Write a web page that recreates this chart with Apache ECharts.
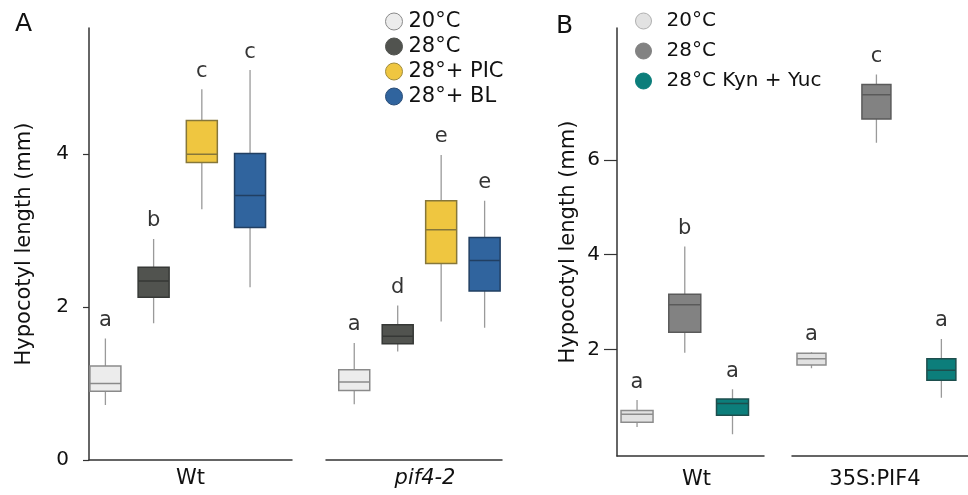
<!DOCTYPE html>
<html><head><meta charset="utf-8">
<script src="https://cdn.jsdelivr.net/npm/echarts@6/dist/echarts.min.js"></script>
<style>html,body{margin:0;padding:0;background:#fff}#c{width:968px;height:495px}</style>
</head><body><div id="c"></div>
<script>
// ---------- DATA ----------
// each box: [lowWhisker, Q1, median, Q3, highWhisker]
const condA = ['20°C', '28°C', '28°+ PIC', '28°+ BL'];
const wtA   = [[0.72, 0.90, 1.00, 1.23, 1.59], [1.79, 2.13, 2.34, 2.52, 2.89], [3.28, 3.89, 4.00, 4.44, 4.85], [2.26, 3.04, 3.46, 4.01, 5.10]];
const pifA  = [[0.73, 0.91, 1.02, 1.18, 1.53], [1.42, 1.52, 1.62, 1.77, 2.02], [1.81, 2.57, 3.01, 3.39, 3.99], [1.73, 2.21, 2.61, 2.91, 3.39]];
const lettersWtA  = ['a', 'b', 'c', 'c'];
const lettersPifA = ['a', 'd', 'e', 'e'];
const groupsA = ['Wt', 'pif4-2'];
const ticksA = [0, 2, 4];

const condB = ['20°C', '28°C', '28°C Kyn + Yuc'];
const wtB   = [[0.36, 0.46, 0.63, 0.71, 0.93], [1.93, 2.36, 2.94, 3.16, 4.17], [0.21, 0.61, 0.86, 0.95, 1.16]];
const pifB  = [[1.60, 1.67, 1.80, 1.92, 1.94], [6.36, 6.86, 7.37, 7.59, 7.80], [0.98, 1.35, 1.56, 1.80, 2.22]];
const lettersWtB  = ['a', 'b', 'a'];
const lettersPifB = ['a', 'c', 'a'];
const groupsB = ['Wt', '35S:PIF4'];
const ticksB = [2, 4, 6];
const yTitle = 'Hypocotyl length (mm)';

// ---------- STYLE ----------
const FONT = "'DejaVu Sans', Verdana, sans-serif";
const fillA   = ['#ececec', '#51534f', '#efc640', '#30649e'];
const borderA = ['#8a8a8a', '#363836', '#86773a', '#213f62'];
const fillB   = ['#e2e2e2', '#828282', '#0c7e7b'];
const borderB = ['#8c8c8c', '#5a5a5a', '#1d4e4d'];
const legIconBorderA = ['#8a8a8a', '#51534f', '#a08b3b', '#2a4d78'];
const legIconBorderB = ['#b0b0b0', '#828282', '#0c7e7b'];
const WHISKER = '#9a9a9a';
const AX = '#333';
const ELLIPSE = 'path://M50,0A50,50,0,1,1,49.99,0Z';

const grids = [
  {left: 89, width: 203, top: 28, bottom: 35},   // A Wt
  {left: 326, width: 176, top: 28, bottom: 35},  // A pif4-2
  {left: 617, width: 147, top: 28, bottom: 38},  // B Wt
  {left: 792, width: 176, top: 28, bottom: 38}   // B 35S:PIF4
];
const xRange = [[-0.34, 3.87], [-0.65, 3.40], [-0.42, 2.66], [-0.30, 2.41]];
const boxW = [31, 31, 32, 29];
const nameText = [groupsA[0], groupsA[1], groupsB[0], groupsB[1]];
const namePad = [[0,0,0,0],[0,0,0,22],[0,0,0,12],[0,10,0,0]];
const nameGapX = [8, 8, 13, 13];

const xAxes = [];
function visibleX(i) {
  xAxes.push({
    type: 'value', gridIndex: i, min: xRange[i][0], max: xRange[i][1],
    splitLine: {show: false}, axisTick: {show: false}, axisLabel: {show: false},
    axisLine: {show: true, onZero: false, lineStyle: {color: AX, width: 1.5}},
    name: nameText[i], nameLocation: 'middle', nameGap: nameGapX[i],
    nameTextStyle: {fontFamily: FONT, fontSize: 21, color: '#111', fontStyle: i === 1 ? 'italic' : 'normal',
                    padding: namePad[i], verticalAlign: 'top'}
  });
  return xAxes.length - 1;
}
function hiddenX(i) {
  xAxes.push({type: 'value', gridIndex: i, min: xRange[i][0], max: xRange[i][1], show: false,
              splitLine: {show: false}, axisLine: {onZero: false}});
  return xAxes.length - 1;
}

function yAx(i, min, max, ticks, show, tickLen, margin, gap) {
  return {
    type: 'value', gridIndex: i, min: min, max: max, show: show,
    splitLine: {show: false},
    axisLine: {show: true, onZero: false, lineStyle: {color: AX, width: 1.5}},
    axisTick: {show: true, length: tickLen, customValues: ticks, lineStyle: {color: AX, width: 1.2}},
    axisLabel: {show: true, customValues: ticks, margin: margin, fontFamily: FONT, fontSize: 20, color: '#111'},
    name: show ? yTitle : '', nameLocation: 'middle', nameGap: gap, nameRotate: 90,
    nameTextStyle: {fontFamily: FONT, fontSize: 21, color: '#111'}
  };
}
const yAxes = [
  yAx(0, 0, 5.65, ticksA, true, 6, 20, 54),
  yAx(1, 0, 5.65, ticksA, false, 6, 20, 54),
  yAx(2, -0.25, 8.78, ticksB, true, 13, 17, 38),
  yAx(3, -0.25, 8.78, ticksB, false, 13, 17, 38)
];

const series = [];
function addGroup(gi, boxes, conds, fills, borders, letters, prefix) {
  const vx = visibleX(gi);
  // whiskers: one series, drawn behind the boxes, no end caps
  series.push({
    type: 'boxplot', name: prefix + '|whiskers' + gi, xAxisIndex: vx, yAxisIndex: gi,
    boxWidth: [0, 0], silent: true, z: 1,
    itemStyle: {color: WHISKER, borderColor: WHISKER, borderWidth: 1.3},
    data: boxes.map((b, k) => [k, b[0], b[1], b[2], b[3], b[4]])
  });
  boxes.forEach((b, k) => {
    series.push({
      type: 'boxplot', name: prefix + '|' + conds[k], xAxisIndex: hiddenX(gi), yAxisIndex: gi,
      boxWidth: [boxW[gi], boxW[gi]], z: 2,
      itemStyle: {color: fills[k], borderColor: borders[k], borderWidth: 1.5},
      data: [[k, b[1], b[1], b[2], b[3], b[3]]]
    });
  });
  series.push({
    type: 'scatter', name: prefix + '|letters' + gi, xAxisIndex: vx, yAxisIndex: gi,
    symbolSize: 1, itemStyle: {color: 'rgba(0,0,0,0)'}, silent: true, z: 3,
    data: boxes.map((b, k) => [k, b[4]]),
    label: {show: true, position: 'top', distance: 7, fontFamily: FONT, fontSize: 21, color: '#000',
            formatter: p => letters[p.dataIndex]}
  });
}
addGroup(0, wtA, condA, fillA, borderA, lettersWtA, 'A');
addGroup(1, pifA, condA, fillA, borderA, lettersPifA, 'A');
addGroup(2, wtB, condB, fillB, borderB, lettersWtB, 'B');
addGroup(3, pifB, condB, fillB, borderB, lettersPifB, 'B');

const option = {
  animation: false,
  backgroundColor: '#fff',
  title: [
    {text: 'A', left: 10, top: 7, textStyle: {fontFamily: FONT, fontSize: 25, fontWeight: 'normal', color: '#111'}},
    {text: 'B', left: 551, top: 9, textStyle: {fontFamily: FONT, fontSize: 25, fontWeight: 'normal', color: '#111'}}
  ],
  legend: [
    {orient: 'vertical', left: 380, top: 6, itemWidth: 19, itemHeight: 17, itemGap: 4, icon: ELLIPSE,
     textStyle: {fontFamily: FONT, fontSize: 21, color: '#111', lineHeight: 21, padding: [0, 0, 0, 0]},
     formatter: n => n.split('|')[1],
     data: condA.map((c, k) => ({name: 'A|' + c, itemStyle: {color: fillA[k], borderColor: legIconBorderA[k], borderWidth: 1}}))},
    {orient: 'vertical', left: 630, top: 6, itemWidth: 20, itemHeight: 16, itemGap: 10, icon: ELLIPSE,
     textStyle: {fontFamily: FONT, fontSize: 20, color: '#111', lineHeight: 20, padding: [0, 0, 0, 8]},
     formatter: n => n.split('|')[1],
     data: condB.map((c, k) => ({name: 'B|' + c, itemStyle: {color: fillB[k], borderColor: legIconBorderB[k], borderWidth: 1}}))}
  ],
  grid: grids,
  xAxis: xAxes,
  yAxis: yAxes,
  series: series
};
const chart = echarts.init(document.getElementById('c'), null, {renderer: 'canvas'});
chart.setOption(option);
</script></body></html>
